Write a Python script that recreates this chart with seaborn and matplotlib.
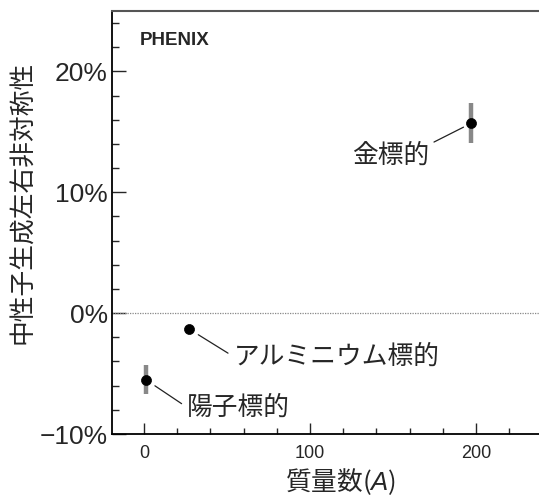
import matplotlib
matplotlib.use("Agg")
import matplotlib.pyplot as plt
import seaborn as sns
import pandas as pd
from matplotlib.ticker import MultipleLocator, FixedLocator

# ---- data ----
targets = ["陽子標的", "アルミニウム標的", "金標的"]
mass_number = [1, 27, 197]
asymmetry = [-5.5, -1.3, 15.7]
asym_err = [1.2, 0.0, 1.65]
label_pos_x = [26, 54, 172]
label_pos_y = [-7.8, -3.6, 13.0]
y_ticks = [-10, 0, 10, 20]
y_ticklabels = ["\u221210%", "0%", "10%", "20%"]
x_ticks = [0, 100, 200]
x_ticklabels = ["0", "100", "200"]

df = pd.DataFrame({"target": targets, "A": mass_number, "asym": asymmetry, "err": asym_err})

sns.set_style("ticks")
plt.rcParams['font.family'] = ['Liberation Sans', 'Noto Sans CJK JP', 'DejaVu Sans']
plt.rcParams['mathtext.fontset'] = 'custom'
plt.rcParams['mathtext.it'] = 'Liberation Sans:italic'
plt.rcParams['mathtext.rm'] = 'Liberation Sans'
CJK = ['Noto Sans CJK JP', 'DejaVu Sans']

fig = plt.figure(figsize=(5.39, 4.97), dpi=100)
ax = fig.add_axes([112/539, 1-434/497, 427/539, 423/497])

# zero line
ax.axhline(0, color='#888888', lw=0.9, ls=(0, (1, 1)), zorder=1)

# error bars
ax.errorbar(df["A"], df["asym"], yerr=df["err"], fmt='none', ecolor='#888888',
            elinewidth=3.2, capsize=0, zorder=2)
sns.scatterplot(data=df, x="A", y="asym", color='black', s=52, edgecolor='black',
                linewidth=0.5, ax=ax, zorder=3, legend=False)

# annotations
for i, t in enumerate(targets):
    if i == 2:
        ax.annotate(t, xy=(mass_number[i], asymmetry[i]), xytext=(label_pos_x[i], label_pos_y[i]),
                    ha='right', va='center', fontsize=18.5, family=CJK,
                    arrowprops=dict(arrowstyle='-', color='#222222', lw=0.9,
                                    relpos=(1.0, 0.95), shrinkA=1, shrinkB=6))
    else:
        ax.annotate(t, xy=(mass_number[i], asymmetry[i]), xytext=(label_pos_x[i], label_pos_y[i]),
                    ha='left', va='center', fontsize=18.5, family=CJK,
                    arrowprops=dict(arrowstyle='-', color='#222222', lw=0.9,
                                    relpos=(0.0, 0.5), shrinkA=2, shrinkB=8))

ax.text(0.066, 0.931, "PHENIX", transform=ax.transAxes, fontsize=13.5, fontweight='bold',
        ha='left', va='center', family=['Liberation Sans'])

ax.set_xlim(-19.3, 238)
ax.set_ylim(-10, 25)

ax.yaxis.set_major_locator(FixedLocator(y_ticks))
ax.set_yticklabels(y_ticklabels)
ax.yaxis.set_minor_locator(MultipleLocator(2))
ax.xaxis.set_major_locator(FixedLocator(x_ticks))
ax.set_xticklabels(x_ticklabels)
ax.xaxis.set_minor_locator(MultipleLocator(20))

ax.tick_params(axis='y', which='major', direction='in', length=10, width=1, labelsize=19, pad=3)
ax.tick_params(axis='y', which='minor', direction='in', length=5, width=1)
ax.tick_params(axis='x', which='major', direction='in', length=8, width=1, labelsize=13, pad=8)
ax.tick_params(axis='x', which='minor', direction='in', length=4, width=1)

ax.spines['right'].set_visible(False)
ax.spines['top'].set_color('#555555')
ax.spines['top'].set_linewidth(1.5)
for s in ['left', 'bottom']:
    ax.spines[s].set_color('black')
    ax.spines[s].set_linewidth(1.3)

ax.set_ylabel("中性子生成左右非対称性", fontsize=18.5, family=CJK)
ax.yaxis.set_label_coords(-0.178, 0.548)
ax.set_xlabel("質量数($\\mathit{A}$)", fontsize=18.5, family=CJK)
ax.xaxis.set_label_coords(0.536, -0.1135)
ax.xaxis.label.set_va('center')

fig.savefig("out.png", dpi=100)
